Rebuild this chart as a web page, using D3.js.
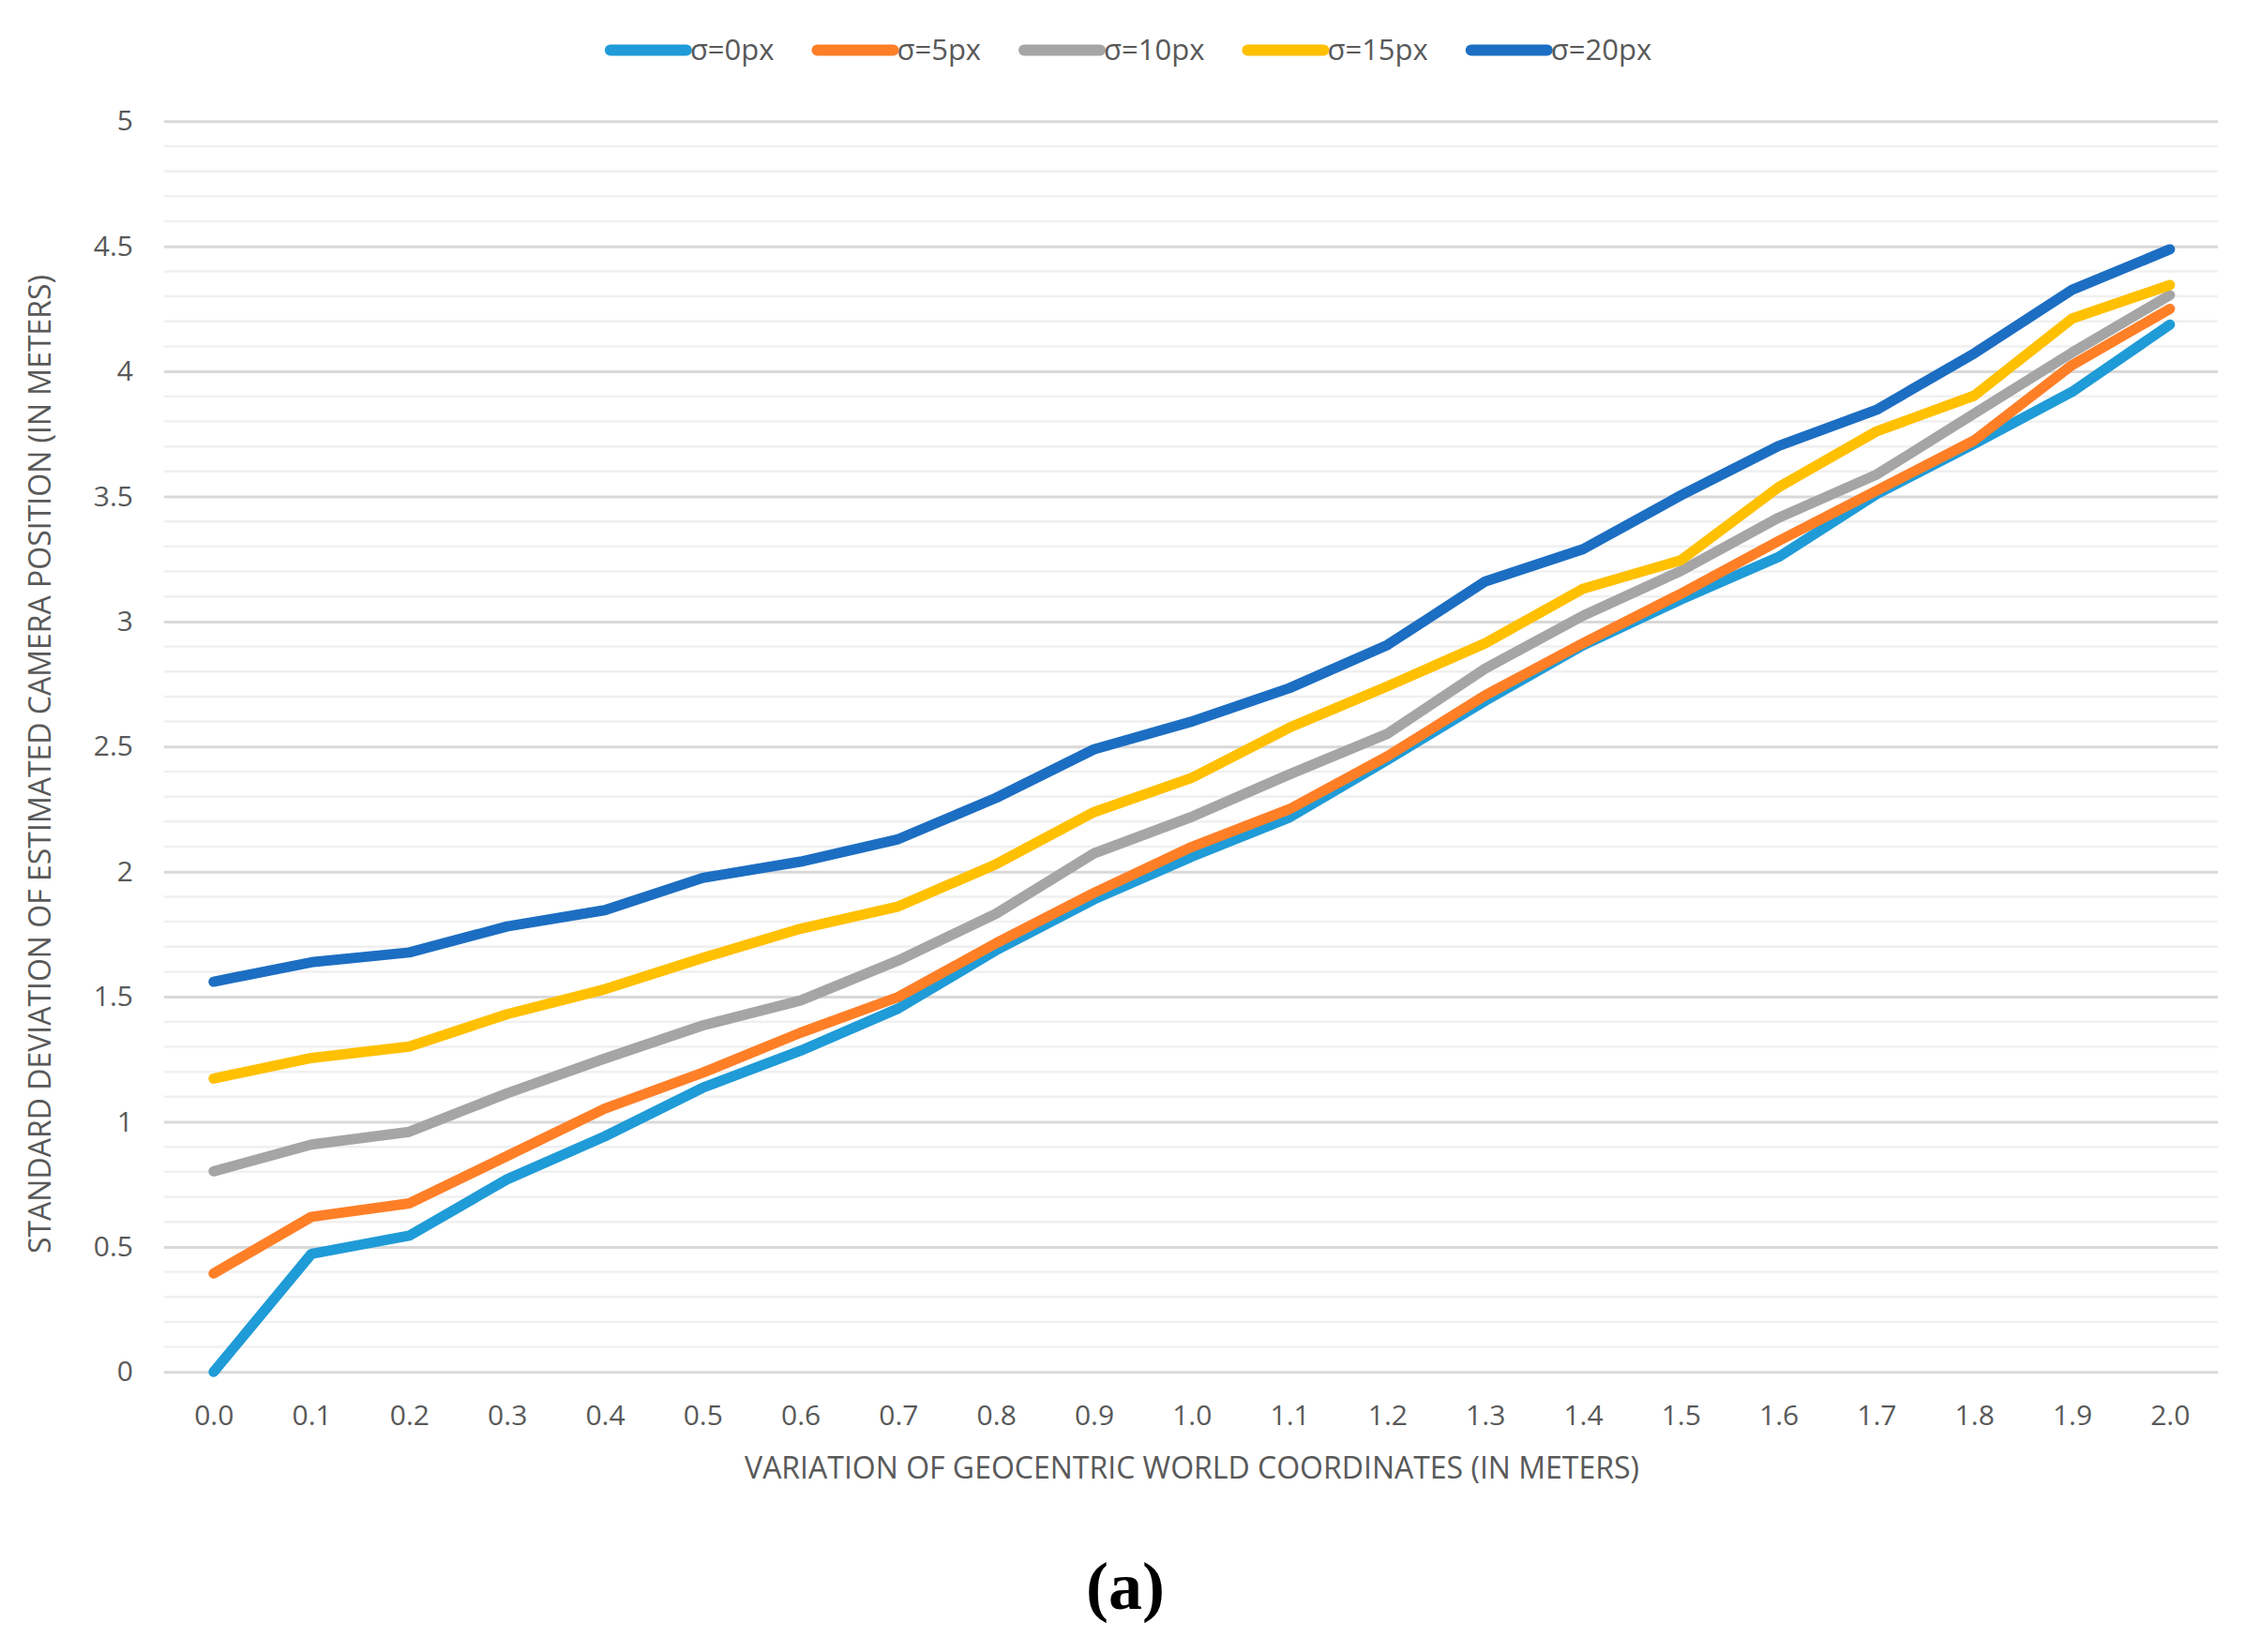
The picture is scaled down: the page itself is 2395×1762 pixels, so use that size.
<!DOCTYPE html>
<html>
<head>
<meta charset="utf-8">
<script src="https://cdn.jsdelivr.net/npm/d3@7"></script>
<style>
  html, body { margin: 0; padding: 0; background: #ffffff; }
  svg { display: block; }
  text { font-family: "Open Sans", "Noto Sans", sans-serif; fill: #595959; }
  text.panel { font-family: "Liberation Serif", "DejaVu Serif", serif; font-weight: bold; fill: #000000; }
</style>
</head>
<body>
<svg id="chart" width="2395" height="1762"></svg>
<script>
// ---- data ----
const categories = ["0.0","0.1","0.2","0.3","0.4","0.5","0.6","0.7","0.8","0.9","1.0",
                    "1.1","1.2","1.3","1.4","1.5","1.6","1.7","1.8","1.9","2.0"];
const seriesNames = ["σ=0px","σ=5px","σ=10px","σ=15px","σ=20px"];
const sigma0  = [0.00,0.472,0.545,0.77,0.942,1.136,1.284,1.453,1.686,1.889,2.06,2.217,2.447,2.683,2.905,3.088,3.258,3.509,3.710,3.918,4.187];
const sigma5  = [0.394,0.620,0.674,0.863,1.053,1.196,1.356,1.499,1.714,1.915,2.099,2.250,2.461,2.705,2.913,3.111,3.322,3.523,3.724,4.025,4.250];
const sigma10 = [0.802,0.909,0.960,1.114,1.253,1.385,1.485,1.645,1.832,2.073,2.219,2.389,2.551,2.812,3.023,3.202,3.415,3.587,3.831,4.075,4.305];
const sigma15 = [1.173,1.255,1.301,1.430,1.530,1.655,1.772,1.861,2.030,2.238,2.375,2.576,2.741,2.913,3.131,3.245,3.537,3.760,3.903,4.211,4.345];
const sigma20 = [1.560,1.638,1.677,1.781,1.846,1.975,2.040,2.130,2.295,2.489,2.600,2.734,2.906,3.160,3.289,3.504,3.702,3.846,4.072,4.326,4.488];
const yTicks = [0, 0.5, 1, 1.5, 2, 2.5, 3, 3.5, 4, 4.5, 5];
const xTitle = "VARIATION OF GEOCENTRIC WORLD COORDINATES (IN METERS)";
const yTitle = "STANDARD DEVIATION OF ESTIMATED CAMERA POSITION (IN METERS)";
const panelLabel = "(a)";

// ---- styles ----
const colors = ["#1f9bd7", "#ff7f27", "#a5a5a5", "#ffc000", "#1c6ec2"];
const allSeries = [sigma0, sigma5, sigma10, sigma15, sigma20];

const svg = d3.select("#chart");
const gridLeft = 175, gridRight = 2365;

const x = d3.scalePoint().domain(categories).range([227.8, 2313.8]);
const y = d3.scaleLinear().domain([0, 5]).range([1463.3, 129.3]);

// minor gridlines
const minor = d3.range(0, 50).map(i => i / 10).filter(v => Math.abs(v * 2 - Math.round(v * 2)) > 1e-6);
svg.append("g").selectAll("line").data(minor).join("line")
  .attr("x1", gridLeft).attr("x2", gridRight)
  .attr("y1", d => y(d)).attr("y2", d => y(d))
  .attr("stroke", "#f0f0f0").attr("stroke-width", 2.5);

// major gridlines via axis
const yAxis = d3.axisLeft(y).tickValues(yTicks).tickSize(-(gridRight - gridLeft)).tickPadding(33)
  .tickFormat(d => String(d));
const gy = svg.append("g").attr("transform", `translate(${gridLeft},0)`).call(yAxis);
gy.select(".domain").remove();
gy.selectAll(".tick line").attr("stroke", "#d9d9d9").attr("stroke-width", 3);
gy.selectAll(".tick text").attr("font-size", 30).style("fill", "#595959");

// x axis labels
const xAxis = d3.axisBottom(x).tickSize(0).tickPadding(0);
const gx = svg.append("g").attr("transform", `translate(0,1463.3)`).call(xAxis);
gx.select(".domain").remove();
gx.selectAll(".tick text").attr("font-size", 30).style("fill", "#595959")
  .attr("dy", null).attr("y", 57);

// lines
const line = d3.line().x((d, i) => x(categories[i])).y(d => y(d));
svg.append("g").selectAll("path").data(allSeries).join("path")
  .attr("d", d => line(d))
  .attr("fill", "none")
  .attr("stroke", (d, i) => colors[i])
  .attr("stroke-width", 11)
  .attr("stroke-linejoin", "round")
  .attr("stroke-linecap", "round");

// legend
const legend = svg.append("g");
const items = legend.selectAll("g").data(seriesNames).join("g");
items.append("line")
  .attr("x1", 6).attr("x2", 87).attr("y1", 0).attr("y2", 0)
  .attr("stroke", (d, i) => colors[i]).attr("stroke-width", 12).attr("stroke-linecap", "round");
items.append("text").text(d => d).attr("x", 91).attr("y", 0).attr("dy", "0.35em")
  .attr("font-size", 31);
let cx = 0;
const gap = 40;
items.each(function () {
  const w = 91 + d3.select(this).select("text").node().getComputedTextLength();
  d3.select(this).attr("transform", `translate(${cx},53.5)`);
  cx += w + gap;
});
const totalW = cx - gap;
legend.attr("transform", `translate(${1209 - totalW / 2 - 6},0)`);

// axis titles
svg.append("text").text(xTitle)
  .attr("x", 1271).attr("y", 1577).attr("text-anchor", "middle")
  .attr("font-size", 32);
svg.append("text").text(yTitle)
  .attr("transform", "translate(54,815) rotate(-90)")
  .attr("text-anchor", "middle")
  .attr("font-size", 32);

// panel label
svg.append("text").attr("class", "panel").text(panelLabel)
  .attr("x", 1200).attr("y", 1716).attr("text-anchor", "middle")
  .attr("font-size", 72);
</script>
</body>
</html>
